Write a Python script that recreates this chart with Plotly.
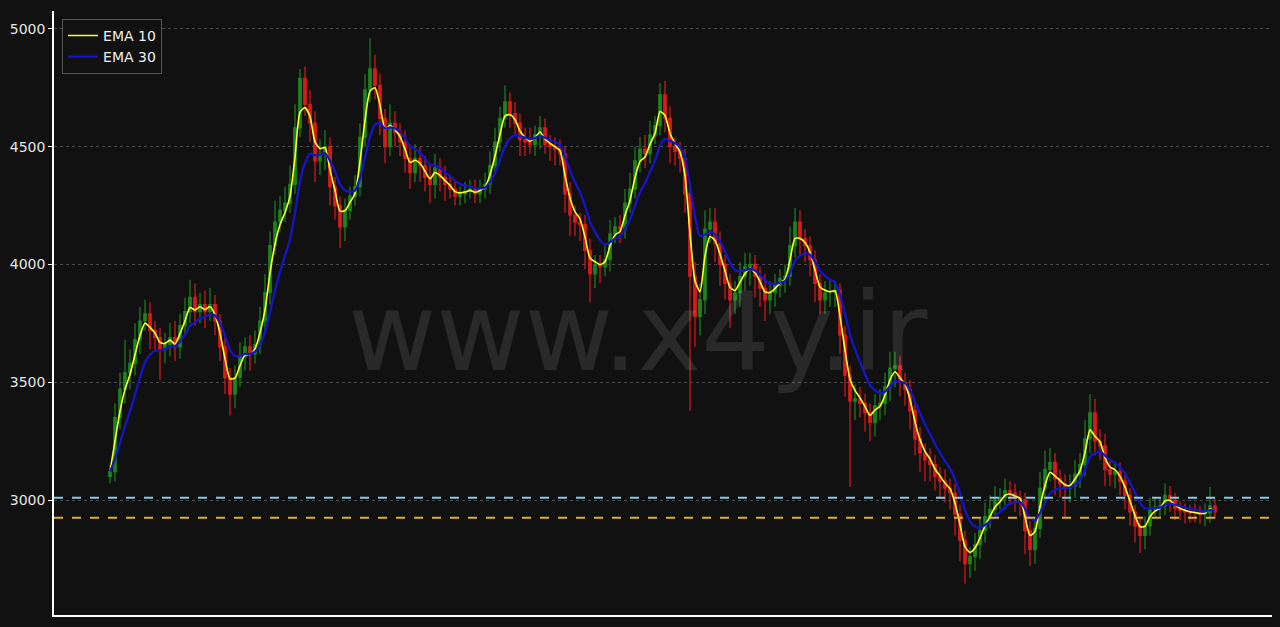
import pandas as pd
import plotly.graph_objects as go

# ---- data (each candle here ~ 4 bars of the original) ----
CLOSE = [
    3120, 3350, 3470, 3540, 3580, 3680, 3760, 3790, 3720, 3690,
    3640, 3660, 3690, 3650, 3740, 3800, 3860, 3800, 3830, 3800,
    3830, 3760, 3650, 3520, 3450, 3520, 3610, 3650, 3620, 3660,
    3760, 3880, 4080, 4180, 4230, 4260, 4340, 4580, 4790, 4680,
    4600, 4440, 4470, 4500, 4330, 4250, 4160, 4230, 4290, 4330,
    4540, 4740, 4830, 4760, 4620, 4500, 4600, 4560, 4520, 4450,
    4390, 4450, 4420, 4370, 4340, 4410, 4370, 4340, 4320, 4290,
    4300, 4310, 4320, 4300, 4320, 4340, 4420, 4520, 4620, 4690,
    4640, 4600, 4530, 4520, 4510, 4550, 4580, 4510, 4500, 4490,
    4470, 4300, 4210, 4180, 4170, 4060, 3960, 4000, 3990, 4020,
    4130, 4160, 4150, 4260, 4320, 4440, 4490, 4470, 4550, 4590,
    4720, 4620, 4500, 4480, 4450, 4300, 3950, 3780, 3850, 4150,
    4180, 4090, 4000, 3920, 3850, 3880, 3950, 3990, 4000, 3950,
    3900, 3850, 3880, 3910, 3940, 3950, 4080, 4180, 4110, 4080,
    4020, 3920, 3850, 3880, 3880, 3890, 3700, 3530, 3420, 3430,
    3410, 3370, 3330, 3400, 3410, 3480, 3560, 3570, 3500, 3470,
    3380, 3260, 3200, 3170, 3150, 3100, 3080, 3050, 3030, 2940,
    2830, 2730, 2760, 2810, 2870, 2930, 2960, 3000, 3010, 3040,
    3030, 3010, 3000, 2870, 2790, 2880, 3050, 3130, 3160, 3090,
    3070, 3050, 3060, 3110, 3150, 3260, 3370, 3250, 3230, 3130,
    3110, 3120, 3080, 3020, 2950, 2890, 2850, 2890, 2960, 2970,
    2975, 3020, 3000, 2965, 2955, 2950, 2945, 2945, 2940, 2945, 2975, 2950,
]
UPPER_WICK = [
    30, 60, 70, 140, 60, 70, 60, 60, 50, 40,
    40, 50, 60, 70, 50, 60, 75, 60, 50, 60,
    70, 40, 30, 40, 40, 50, 60, 40, 50, 60,
    60, 80, 60, 90, 60, 70, 80, 100, 40, 50,
    60, 50, 60, 70, 40, 40, 40, 50, 40, 50,
    60, 70, 130, 60, 50, 40, 80, 50, 40, 50,
    60, 60, 50, 40, 50, 60, 40, 50, 40, 40,
    30, 40, 40, 40, 40, 50, 60, 60, 50, 70,
    40, 50, 40, 50, 60, 40, 50, 40, 40, 40,
    40, 30, 50, 40, 40, 40, 50, 40, 40, 60,
    60, 40, 50, 60, 70, 60, 50, 60, 60, 40,
    50, 60, 50, 40, 40, 40, 40, 60, 70, 80,
    60, 60, 50, 40, 40, 50, 60, 60, 50, 40,
    40, 60, 50, 50, 40, 50, 80, 60, 50, 40,
    40, 40, 40, 50, 60, 40, 30, 40, 40, 60,
    50, 40, 40, 50, 60, 60, 70, 60, 40, 40,
    40, 40, 50, 40, 50, 40, 40, 50, 40, 40,
    40, 40, 40, 50, 50, 60, 60, 60, 40, 50,
    40, 40, 30, 30, 40, 50, 70, 80, 60, 40,
    40, 40, 50, 60, 50, 80, 80, 60, 50, 50,
    40, 40, 40, 30, 30, 30, 40, 40, 50, 40,
    30, 50, 40, 30, 30, 30, 30, 40, 30, 40, 80, 30,
]
LOWER_WICK = [
    30, 40, 50, 60, 70, 50, 60, 40, 80, 60,
    130, 60, 50, 60, 50, 40, 50, 60, 50, 70,
    40, 60, 60, 70, 90, 60, 40, 60, 70, 40,
    40, 40, 50, 40, 40, 50, 40, 40, 40, 50,
    80, 90, 60, 70, 80, 60, 90, 60, 40, 40,
    40, 40, 50, 60, 70, 70, 40, 60, 60, 60,
    70, 40, 70, 60, 80, 60, 60, 70, 40, 40,
    40, 40, 30, 40, 40, 40, 40, 40, 40, 40,
    60, 50, 70, 60, 40, 50, 60, 40, 60, 70,
    50, 80, 90, 60, 70, 80, 120, 60, 70, 40,
    50, 40, 60, 40, 40, 40, 50, 60, 40, 40,
    40, 60, 70, 60, 60, 80, 570, 130, 80, 60,
    60, 80, 90, 70, 120, 60, 60, 60, 80, 90,
    80, 90, 60, 60, 50, 60, 40, 50, 70, 70,
    70, 80, 60, 60, 60, 60, 80, 90, 365, 80,
    60, 80, 80, 60, 60, 50, 60, 80, 60, 70,
    80, 70, 80, 90, 70, 60, 70, 60, 70, 90,
    90, 85, 60, 60, 60, 50, 50, 40, 40, 50,
    50, 60, 70, 100, 70, 60, 40, 60, 50, 70,
    60, 120, 60, 50, 60, 50, 60, 60, 60, 70,
    50, 60, 60, 60, 60, 70, 75, 60, 40, 40,
    40, 40, 50, 50, 40, 50, 40, 40, 40, 50, 40, 30,
]
FIRST_OPEN = 3100
LEVELS = [3010, 2925]
LEVEL_COLORS = ["#8cc8e0", "#dcb22c"]
Y_TICKS = [3000, 3500, 4000, 4500, 5000]
EMA_PERIODS = [10, 30]
EMA_NAMES = ["EMA 10", "EMA 30"]
EMA_COLORS = ["#ffff2e", "#1515c8"]
EMA_WIDTHS = [1.6, 2.3]
BARS_PER_CANDLE = 4

n = len(CLOSE)
xs = list(range(n))
opens = [FIRST_OPEN] + CLOSE[:-1]
highs = [max(o, c) + u for o, c, u in zip(opens, CLOSE, UPPER_WICK)]
lows = [min(o, c) - d for o, c, d in zip(opens, CLOSE, LOWER_WICK)]

close_s = pd.Series(CLOSE, dtype=float)

fig = go.Figure()
fig.add_trace(go.Candlestick(
    x=xs, open=opens, high=highs, low=lows, close=CLOSE,
    increasing=dict(line=dict(color="#1e9a1e", width=1.2), fillcolor="#1e9a1e"),
    decreasing=dict(line=dict(color="#ff1c1c", width=1.2), fillcolor="#ff1c1c"),
    whiskerwidth=0, opacity=0.85, showlegend=False, hoverinfo="skip",
))
for p, name, col, w in zip(EMA_PERIODS, EMA_NAMES, EMA_COLORS, EMA_WIDTHS):
    ema = close_s.ewm(span=p / BARS_PER_CANDLE, adjust=False).mean()
    fig.add_trace(go.Scatter(
        x=xs, y=ema, mode="lines", name=name,
        line=dict(color=col, width=w, shape="spline", smoothing=0.6),
    ))

for lv, col in zip(LEVELS, LEVEL_COLORS):
    fig.add_shape(type="line", xref="paper", x0=0, x1=1, yref="y", y0=lv, y1=lv,
                  line=dict(color=col, width=2, dash="dash"), layer="above")

fig.add_annotation(
    text="www.x4y.ir", xref="paper", yref="paper", x=0.4795, y=0.468,
    showarrow=False, font=dict(family="DejaVu Sans", size=108, color="rgba(255,255,255,0.10)"),
)

fig.update_layout(
    width=1280, height=627,
    margin=dict(l=54, r=8, t=11, b=12),
    paper_bgcolor="#111111", plot_bgcolor="#111111",
    showlegend=True,
    legend=dict(
        x=0.0066, y=0.987, xanchor="left", yanchor="top",
        bgcolor="#111111", bordercolor="#555555", borderwidth=1,
        font=dict(family="DejaVu Sans", size=14, color="#eeeeee"),
    ),
    xaxis=dict(
        range=[-11.2, 232.4], showticklabels=False, showgrid=False, zeroline=False,
        showline=True, linecolor="white", linewidth=1.5, ticks="",
        rangeslider=dict(visible=False),
    ),
    yaxis=dict(
        range=[2512, 5076], tickvals=Y_TICKS, ticktext=[str(t) for t in Y_TICKS],
        tickfont=dict(family="DejaVu Sans", size=14, color="#e6e6e6"),
        showgrid=True, gridcolor="#4a4a4a", griddash="dot", gridwidth=1,
        showline=True, linecolor="white", linewidth=1.5,
        ticks="outside", ticklen=4, tickcolor="white", zeroline=False,
    ),
)

fig.write_html(
    "out.html",
    config={"displayModeBar": False},
    post_script="document.body.style.margin='0';document.body.style.background='#111111';",
)
